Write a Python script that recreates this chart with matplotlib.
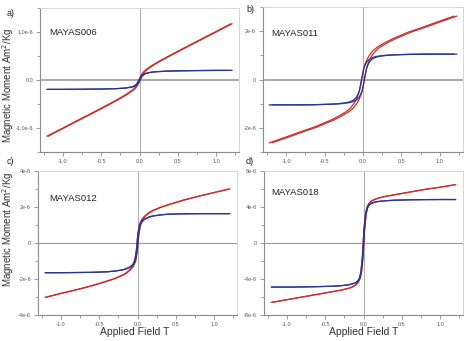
import matplotlib
matplotlib.use('Agg')
import matplotlib.pyplot as plt
from matplotlib.ticker import FixedLocator

plt.rcParams['font.family'] = ['Liberation Sans', 'DejaVu Sans']

# applied field (T) sample points, shared by all panels
field = [-1.2, -1.0, -0.8, -0.6, -0.4, -0.3, -0.2, -0.15, -0.1, -0.07, -0.05, -0.03, -0.01, 0.0,
         0.01, 0.03, 0.05, 0.07, 0.1, 0.15, 0.2, 0.3, 0.4, 0.6, 0.8, 1.0, 1.2]

# moments in units of 1e-6 Am2/Kg; red = raw, blue = corrected
red_006 = [-1.17, -1.005, -0.84, -0.676, -0.509, -0.423, -0.332, -0.282, -0.226, -0.187, -0.151, -0.104, -0.038, 0.0,
           0.038, 0.104, 0.151, 0.187, 0.226, 0.282, 0.332, 0.423, 0.509, 0.676, 0.84, 1.005, 1.17]
blue_006 = [-0.195, -0.195, -0.193, -0.19, -0.185, -0.18, -0.17, -0.16, -0.145, -0.13, -0.11, -0.08, -0.03, 0.0,
            0.03, 0.08, 0.11, 0.13, 0.145, 0.16, 0.17, 0.18, 0.187, 0.193, 0.197, 0.2, 0.2]

red_011 = [-2.62, -2.4, -2.17, -1.95, -1.68, -1.52, -1.33, -1.2, -1.0, -0.83, -0.68, -0.5, -0.18, 0.0,
           0.18, 0.5, 0.68, 0.83, 1.0, 1.2, 1.33, 1.52, 1.68, 1.95, 2.17, 2.4, 2.62]
blue_011 = [-1.05, -1.05, -1.05, -1.04, -1.02, -1.0, -0.96, -0.92, -0.84, -0.74, -0.63, -0.47, -0.17, 0.0,
            0.17, 0.47, 0.63, 0.74, 0.84, 0.92, 0.96, 1.0, 1.02, 1.04, 1.05, 1.05, 1.05]

red_012 = [-3.02, -2.8, -2.6, -2.38, -2.12, -1.98, -1.8, -1.68, -1.5, -1.36, -1.22, -1.0, -0.47, 0.0,
           0.47, 1.0, 1.22, 1.36, 1.5, 1.68, 1.8, 1.98, 2.12, 2.38, 2.6, 2.8, 3.0]
blue_012 = [-1.65, -1.65, -1.64, -1.63, -1.6, -1.56, -1.5, -1.44, -1.34, -1.25, -1.15, -0.95, -0.45, 0.0,
            0.45, 0.95, 1.15, 1.25, 1.34, 1.44, 1.5, 1.56, 1.6, 1.62, 1.63, 1.63, 1.63]

red_018 = [-6.6, -6.3, -6.0, -5.7, -5.4, -5.25, -5.05, -4.9, -4.65, -4.35, -4.0, -3.25, -1.5, 0.0,
           1.5, 3.25, 4.0, 4.35, 4.65, 4.85, 5.0, 5.2, 5.35, 5.65, 5.95, 6.2, 6.48]
blue_018 = [-4.9, -4.9, -4.88, -4.85, -4.8, -4.75, -4.65, -4.55, -4.4, -4.2, -3.9, -3.2, -1.5, 0.0,
            1.5, 3.2, 3.9, 4.2, 4.4, 4.55, 4.62, 4.7, 4.75, 4.8, 4.82, 4.83, 4.83]

# half loop width (T)
loop_006, loop_011, loop_012, loop_018 = 0.008, 0.018, 0.006, 0.004

samples = ['MAYAS006', 'MAYAS011', 'MAYAS012', 'MAYAS018']
letters = ['a)', 'b)', 'c)', 'd)']
yticks = [[-1.0, 0.0, 1.0], [-2, 0, 2], [-4, -2, 0, 2, 4], [-8, -4, 0, 4, 8]]
yticklabels = [['-1.0e-6', '0.0', '1.0e-6'], ['-2e-6', '0', '2e-6'],
               ['-4e-6', '-2e-6', '0', '2e-6', '4e-6'], ['-8e-6', '-4e-6', '0', '4e-6', '8e-6']]
yminor = [[-1.5, -0.5, 0.5, 1.5], [-3, -1, 1, 3], [-3, -1, 1, 3], [-6, -2, 2, 6]]
ylims = [1.5, 3.0, 4.0, 8.0]
xticks = [-1.0, -0.5, 0.0, 0.5, 1.0]

W, H = 468, 341
fig = plt.figure(figsize=(W / 100, H / 100), dpi=100)
RED, BLUE = '#c8302e', '#2c3594'
AX_GREY = '#8c8c8c'

# pixel boxes: left, top, right, bottom
boxes = [(40, 8, 239, 152), (263, 7, 463, 152), (38, 171, 237, 315), (264, 171, 463, 315)]
letter_xy = [(11, 13), (250, 10), (10, 162), (250, 162)]
name_xy = [(0.045, 0.83), (0.04, 0.82), (0.055, 0.81), (0.034, 0.85)]
data = [(red_006, blue_006, loop_006), (red_011, blue_011, loop_011),
        (red_012, blue_012, loop_012), (red_018, blue_018, loop_018)]

for k, (l, t, r, b) in enumerate(boxes):
    ax = fig.add_axes([l / W, 1 - b / H, (r - l) / W, (b - t) / H])
    red, blue, hc = data[k]
    m = 1e-6
    ax.axhline(0, color='#9a9a9a', lw=1.2 if k < 2 else 0.8, zorder=1)
    ax.axvline(0, color='#b0b0b0', lw=0.8, zorder=1)
    for s in (-hc, hc):
        ax.plot([f + s for f in field], [v * m for v in red], color=RED, lw=0.9, zorder=2)
    for s in (-hc, hc):
        ax.plot([f + s for f in field], [v * m for v in blue], color=BLUE, lw=0.9, zorder=3)
    ax.set_xlim(-1.3, 1.3)
    ax.set_ylim(-ylims[k] * m, ylims[k] * m)
    ax.set_xticks(xticks)
    ax.set_xticklabels(['-1.0', '-0.5', '0.0', '0.5', '1.0'])
    ax.xaxis.set_minor_locator(FixedLocator([-1.25, -0.75, -0.25, 0.25, 0.75, 1.25]))
    ax.set_yticks([v * m for v in yticks[k]])
    ax.set_yticklabels(yticklabels[k])
    ax.yaxis.set_minor_locator(FixedLocator([v * m for v in yminor[k]]))
    ax.tick_params(which='both', direction='out', colors=AX_GREY, labelcolor='#555555',
                   labelsize=4, width=0.6, pad=2)
    ax.tick_params(which='major', length=3)
    ax.tick_params(which='minor', length=2)
    for sp in ax.spines.values():
        sp.set_color(AX_GREY)
        sp.set_linewidth(0.8)
    for sp in ('top', 'right'):
        ax.spines[sp].set_color('#d0d0d0')
        ax.spines[sp].set_linewidth(0.6)
    ax.text(name_xy[k][0], name_xy[k][1], samples[k], transform=ax.transAxes, fontsize=6.8,
            color='#222222', va='center')
    fig.text(letter_xy[k][0] / W, 1 - letter_xy[k][1] / H, letters[k], fontsize=6.5,
             color='#222222', ha='center', va='center')
    if k in (0, 2):
        yc = 85 if k == 0 else 229
        fig.text(8 / W, 1 - yc / H, 'Magnetic Moment Am$^2$/Kg', rotation=90, fontsize=7,
                 color='#333333', ha='center', va='center')
    if k in (2, 3):
        xc = 135 if k == 2 else 364
        fig.text(xc / W, 1 - 332 / H, 'Applied Field T', fontsize=7.5, color='#333333',
                 ha='center', va='center')

fig.savefig('out.png', dpi=100, facecolor='white')
